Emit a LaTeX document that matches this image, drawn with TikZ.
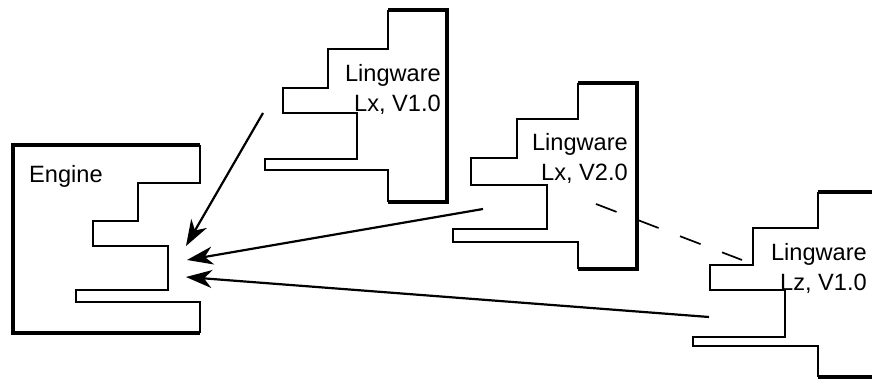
\documentclass[tikz,border=0pt]{standalone}
\usepackage{fontspec}
\setmainfont{Liberation Sans}
\usetikzlibrary{arrows.meta}

\begin{document}
\begin{tikzpicture}[x=1pt, y=-1pt,
outline/.style={line width=1.5pt, line join=miter},
frame/.style={line width=4.8pt, line join=miter},
boxtext/.style={inner sep=0pt, align=right, font=\fontsize{23.6}{30}\selectfont},
arrow/.style={-{Stealth[length=26pt, width=18pt, inset=8pt]}, line width=2.2pt},
link/.style={dash pattern=on 22pt off 23pt, line width=1.7pt}
]
\useasboundingbox (0,0) rectangle (872,379);

% engine
\draw[frame] (200,145) -- (13,145) -- (13,333) -- (200,333);
\draw[outline] (200,145) -- (200,183) -- (138,183) -- (138,221) -- (93,221) -- (93,246) -- (168,246) -- (168,290) -- (76,290) -- (76,302) -- (200,302) -- (200,333);
\node[boxtext, anchor=west] (engine) at (29,176) {Engine};

% lingware Lx, V1.0
\draw[frame] (388,10) -- (447,10) -- (447,202) -- (388,202);
\draw[outline] (388,10) -- (388,49) -- (328,49) -- (328,88) -- (283,88) -- (283,113) -- (357,113) -- (357,159) -- (265,159) -- (265,170) -- (388,170) -- (388,202);
\node[boxtext, anchor=east] (lx1) at (441,89) {Lingware\\Lx, V1.0};

% lingware Lx, V2.0
\draw[frame] (578,83) -- (637,83) -- (637,269) -- (578,269);
\draw[outline] (578,83) -- (578,119) -- (517,119) -- (517,158) -- (471,158) -- (471,185) -- (547,185) -- (547,229) -- (453,229) -- (453,242) -- (578,242) -- (578,269);
\node[boxtext, anchor=east] (lx2) at (628,158) {Lingware\\Lx, V2.0};

% lingware Lz, V1.0
\draw[frame] (818,192) -- (877,192) -- (877,377) -- (818,377);
\draw[outline] (818,192) -- (818,228) -- (753,228) -- (753,265) -- (710,265) -- (710,290) -- (785,290) -- (785,337) -- (693,337) -- (693,346) -- (818,346) -- (818,377);
\node[boxtext, anchor=east] (lz1) at (867,268) {Lingware\\Lz, V1.0};

% ports
\coordinate (engine-a) at (186,246);
\coordinate (engine-b) at (187,260);
\coordinate (engine-c) at (186,277);
\coordinate (lx1-out) at (263,113);
\coordinate (lx2-out) at (483,209);
\coordinate (lz1-out) at (709,317);
\coordinate (lx2-link) at (596,204);
\coordinate (lz1-link) at (742,260);

\draw[arrow] (lx1-out) -- (engine-a);
\draw[arrow] (lx2-out) -- (engine-b);
\draw[arrow] (lz1-out) -- (engine-c);
\draw[link] (lx2-link) -- (lz1-link);
\end{tikzpicture}
\end{document}
